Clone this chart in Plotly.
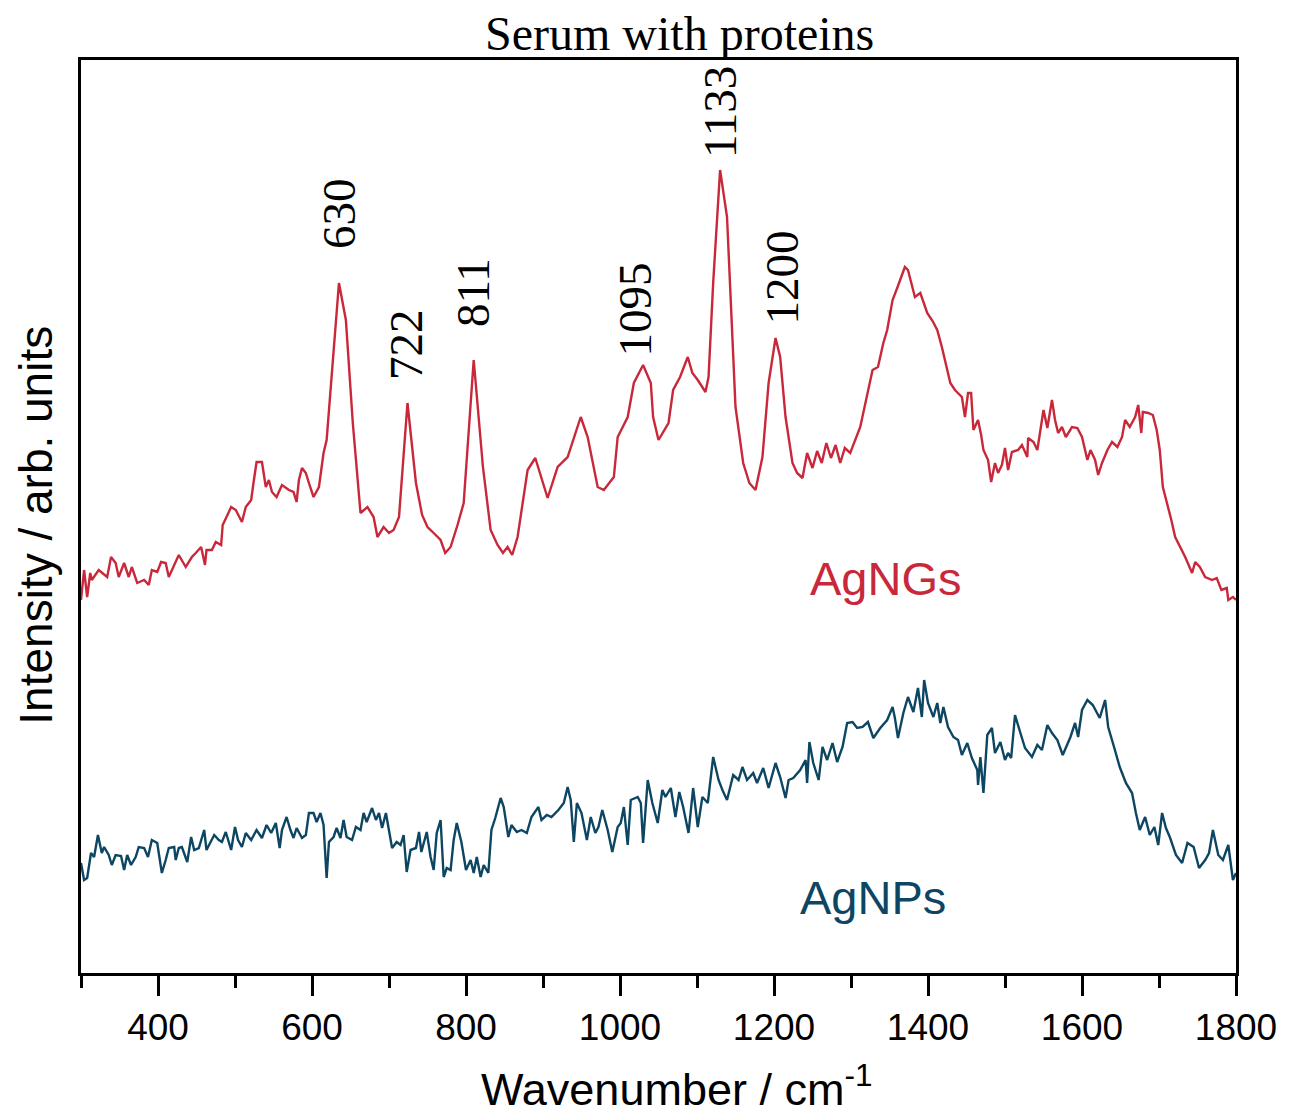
import plotly.graph_objects as go

# ---- data ----
agng_wn = [300, 304, 308, 312, 314, 323, 334, 339, 345, 349, 356, 362, 366, 373, 382, 388, 392, 399, 404, 410,
           414, 421, 427, 436, 444, 449, 456, 461, 463, 470, 475, 482, 484, 489, 495, 501, 509, 514, 521, 524,
           528, 535, 540, 544, 548, 554, 561, 570, 576, 580, 583, 587, 592, 596, 602, 609, 615, 619,
           624, 635, 644, 653, 663, 672, 680, 685, 693, 700, 706, 713, 724, 735, 743, 750, 758, 767, 773, 780, 789,
           797, 810, 822, 832, 841, 848, 854, 860, 867, 880, 890, 906, 919, 932, 949, 958, 971, 979, 992, 997,
           1010, 1018, 1030, 1040, 1043, 1050, 1063, 1069, 1078, 1088, 1094, 1101, 1111, 1115, 1121, 1130, 1139,
           1150, 1160, 1168, 1176, 1185, 1193, 1202, 1208, 1215, 1224, 1230, 1237, 1243, 1250, 1256, 1262, 1268,
           1274, 1280, 1286, 1292, 1299, 1312, 1319, 1328, 1335, 1342, 1347, 1354, 1360, 1370, 1374,
           1383, 1390, 1399, 1406, 1412, 1418,
           1429, 1435, 1444, 1448, 1452, 1456, 1459, 1465, 1469, 1472, 1478, 1482, 1487, 1491, 1496, 1500, 1504,
           1509, 1517, 1522, 1529, 1530, 1537, 1542, 1548, 1550, 1555, 1561, 1565, 1569, 1574, 1579, 1587, 1594,
           1600, 1607, 1611, 1617, 1621, 1626, 1633, 1639, 1646, 1652, 1656, 1662, 1669, 1673, 1677, 1679, 1686,
           1692, 1697, 1701, 1705, 1712, 1716, 1721, 1728, 1734, 1743, 1747, 1753, 1760, 1769, 1775, 1781, 1788,
           1790, 1796, 1800]
agng_int = [373, 403, 376, 400, 393, 403, 396, 416, 410, 396, 410, 396, 406, 390, 393, 388, 403, 401, 411, 410,
            396, 408, 418, 406, 416, 420, 426, 408, 423, 423, 431, 428, 448, 456, 466, 463, 451, 466, 473, 490,
            511, 511, 486, 493, 481, 476, 488, 483, 481, 471, 493, 505, 500, 490, 476, 486, 520, 533,
            583, 690, 653, 550, 460, 466, 456, 436, 446, 440, 443, 456, 570, 490, 458, 446, 440, 433, 420, 426, 448,
            470, 613, 506, 443, 428, 420, 426, 418, 436, 503, 515, 475, 506, 516, 556, 536, 486, 483, 496, 536,
            556, 590, 608, 590, 556, 533, 550, 583, 596, 616, 600, 593, 581, 596, 690, 803, 756,
            566, 510, 490, 483, 516, 590, 635, 616, 556, 510, 500, 495, 520, 505, 522, 510, 530,
            515, 528, 510, 525, 520, 546, 570, 603, 606, 630, 643, 673, 685, 706, 703,
            676, 680, 660, 652, 643, 626,
            590, 583, 576, 556, 580, 580, 543, 553, 538, 523, 513, 491, 510, 500, 508, 525, 503,
            521, 523, 528, 516, 535, 531, 523, 553, 563, 545, 573, 553, 540, 546, 536, 546, 545,
            536, 513, 523, 513, 498, 510, 523, 531, 526, 536, 553, 546, 556, 568, 540, 561, 560,
            558, 543, 523, 486, 466, 453, 436, 426, 416, 400, 411, 406, 396, 393, 395, 383, 385,
            373, 376, 373]

agnp_wn = [300, 304, 308, 313, 317, 322, 327, 330, 336, 340, 345, 352, 356, 360, 365, 371, 375, 382, 387, 392,
           399, 405, 410, 414, 421, 423, 427, 431, 438, 443, 447, 453, 460, 463, 473, 479, 483, 488, 495, 500,
           504, 509, 514, 521, 528, 535, 541, 547, 553, 558, 561, 567, 572, 576, 580, 587, 592, 596, 602, 606,
           611, 615, 619, 622, 628, 632, 637, 641, 645, 652, 657, 663, 667, 671, 678, 683, 687, 691, 696, 704,
           710, 715, 719, 723, 728, 735, 739, 742, 749, 754, 758, 762, 767, 771, 775, 780, 784, 788, 794, 800,
           806, 810, 814, 819, 823, 829, 833, 838, 845, 849, 855, 859, 866, 872, 879, 885, 894, 898, 905, 911,
           920, 927, 932, 936, 940, 944, 950, 957, 962, 968, 972, 977, 984, 990, 997, 1001, 1005, 1010, 1014,
           1023, 1027, 1030, 1036, 1042, 1049, 1055, 1059, 1066, 1072, 1077, 1082, 1089, 1095, 1101, 1107, 1114,
           1121, 1128, 1133, 1139, 1147, 1154, 1159, 1165, 1173, 1178, 1186, 1193, 1202, 1208, 1215, 1219, 1225,
           1234, 1241, 1243, 1246, 1251, 1258, 1263, 1269, 1276, 1282, 1289, 1295, 1302, 1308, 1315, 1322, 1329,
           1338, 1347, 1354, 1357, 1361, 1368, 1374, 1381, 1387, 1392, 1395, 1400, 1407, 1412, 1416, 1420, 1426,
           1433, 1439, 1444, 1451, 1457, 1464, 1465, 1468, 1472, 1477, 1483, 1487, 1494, 1500, 1504, 1508, 1513,
           1520, 1526, 1535, 1542, 1548, 1555, 1561, 1568, 1575, 1585, 1591, 1595, 1600, 1607, 1614, 1623, 1630,
           1634, 1642, 1649, 1657, 1665, 1670, 1675, 1682, 1688, 1694, 1699, 1704, 1709, 1714, 1722, 1730, 1737,
           1745, 1752, 1760, 1765, 1770, 1777, 1783, 1790, 1796, 1800]
agnp_int = [110, 93, 95, 120, 116, 138, 120, 126, 118, 108, 118, 117, 103, 118, 108, 116, 126, 125, 116, 133,
            130, 100, 113, 125, 126, 113, 125, 126, 111, 136, 123, 125, 143, 123, 138, 133, 131, 141, 123, 146,
            133, 126, 140, 133, 143, 135, 148, 140, 150, 125, 143, 156, 143, 135, 145, 135, 138, 160, 160, 151,
            160, 148, 95, 131, 136, 145, 135, 153, 136, 133, 146, 143, 160, 151, 165, 153, 160, 145, 160, 125,
            131, 128, 138, 101, 123, 125, 141, 121, 141, 116, 103, 140, 153, 96, 105, 103, 133, 150, 131, 103,
            113, 100, 116, 96, 108, 100, 143, 155, 175, 166, 136, 148, 141, 143, 140, 156, 166, 153, 158, 156,
            163, 170, 186, 173, 131, 170, 160, 133, 156, 140, 146, 163, 143, 121, 146, 150, 166, 128, 173,
            176, 170, 130, 193, 170, 150, 183, 176, 185, 156, 181, 166, 140, 185, 146, 176, 170,
            216, 193, 183, 173, 198, 193, 206, 193, 200, 190, 205, 185, 210, 196, 175, 193, 195,
            203, 213, 190, 231, 210, 193, 226, 213, 230, 211, 226, 250, 251, 245, 246, 251, 235,
            245, 253, 266, 255, 235, 260, 276, 261, 285, 256, 293, 270, 256, 270, 250, 266, 246,
            236, 233, 218, 230, 215, 203, 188, 216, 180, 238, 245, 220, 231, 213, 220, 215, 258,
            240, 225, 216, 228, 223, 248, 240, 233, 218, 236, 250, 236, 263, 273, 268, 255, 273,
            246, 225, 206, 190, 180, 160, 143, 156, 138, 146, 128, 160, 145, 136, 118, 110, 130,
            126, 105, 113, 120, 143, 118, 113, 128, 93, 100]

peak_labels = ["630", "722", "811", "1095", "1133", "1200"]
series_names = ["AgNGs", "AgNPs"]
x_ticks = [400, 600, 800, 1000, 1200, 1400, 1600, 1800]

# ---- styling / layout ----
RED = "#c8283a"
BLUE = "#0d4662"
SERIF = "Liberation Serif, Times New Roman, serif"
SANS = "Liberation Sans, Arial, sans-serif"

fig = go.Figure()
fig.add_trace(go.Scatter(x=agng_wn, y=agng_int, mode="lines", name=series_names[0],
                         line=dict(color=RED, width=2.4)))
fig.add_trace(go.Scatter(x=agnp_wn, y=agnp_int, mode="lines", name=series_names[1],
                         line=dict(color=BLUE, width=2.4)))

# peak label positions (data coords of label centres)
label_pos = [(635, 760), (722, 629), (809, 681), (1020, 664), (1130, 861), (1211, 696)]
for txt, (lx, ly) in zip(peak_labels, label_pos):
    fig.add_annotation(x=lx, y=ly, text=txt, textangle=-90, showarrow=False,
                       xanchor="center", yanchor="middle",
                       font=dict(family=SERIF, size=47, color="black"))

fig.add_annotation(x=1345, y=395, text=series_names[0], showarrow=False,
                   font=dict(family=SANS, size=47, color=RED))
fig.add_annotation(x=1328, y=76, text=series_names[1], showarrow=False,
                   font=dict(family=SANS, size=47, color=BLUE))

# chart title
fig.add_annotation(xref="paper", yref="paper", x=0.518, y=1.029, text="Serum with proteins",
                   showarrow=False, xanchor="center", yanchor="middle",
                   font=dict(family=SERIF, size=48, color="black"))
# x title
fig.add_annotation(xref="paper", yref="paper", x=0.516, y=-0.124, text="Wavenumber / cm<sup>-1</sup>",
                   showarrow=False, xanchor="center", yanchor="middle",
                   font=dict(family=SANS, size=45, color="black"))
# y title
fig.add_annotation(xref="paper", yref="paper", x=-0.039, y=0.491, text="Intensity / arb. units",
                   showarrow=False, textangle=-90, xanchor="center", yanchor="middle",
                   font=dict(family=SANS, size=46, color="black"))

fig.update_layout(
    width=1289, height=1116,
    margin=dict(l=81, r=53, t=60, b=143),
    paper_bgcolor="white", plot_bgcolor="white",
    showlegend=False,
    xaxis=dict(range=[300, 1800], tickvals=x_ticks, ticks="outside", ticklen=20, tickwidth=3,
               tickcolor="black", showline=True, linecolor="black", linewidth=3, mirror=True,
               showgrid=False, zeroline=False,
               tickfont=dict(family=SANS, size=37, color="black"),
               minor=dict(tickvals=[300, 500, 700, 900, 1100, 1300, 1500, 1700], ticks="outside",
                          ticklen=12, tickwidth=3, tickcolor="black", showgrid=False)),
    yaxis=dict(range=[0, 913], showticklabels=False, ticks="", showline=True, linecolor="black",
               linewidth=3, mirror=True, showgrid=False, zeroline=False),
)

fig.write_html("out.html")
